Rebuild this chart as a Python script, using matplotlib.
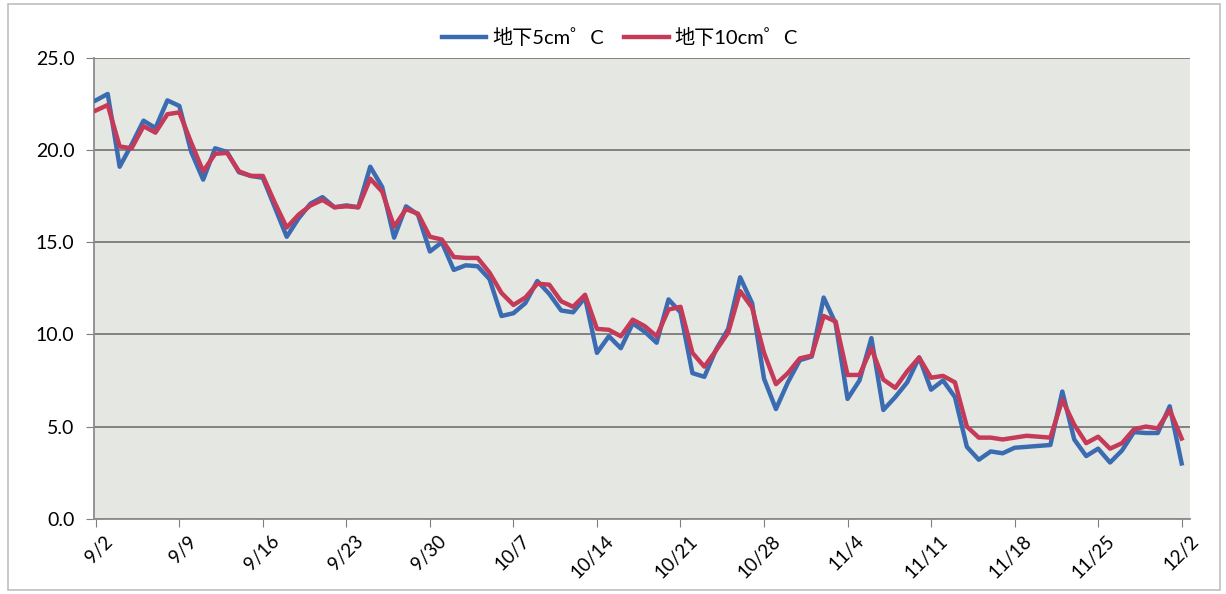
import numpy as np
import matplotlib
matplotlib.use("Agg")
from matplotlib import pyplot as plt
from matplotlib.patches import Rectangle
from matplotlib.transforms import ScaledTranslation

# daily soil temperature, 9/2 .. 12/2
n_days = 92

soil_5cm = [22.7, 23.05, 19.1, 20.3, 21.6, 21.2, 22.7, 22.4, 19.9, 18.4,
            20.1, 19.9, 18.8, 18.6, 18.5, 16.9, 15.3, 16.3, 17.1, 17.45,
            16.9, 17.0, 16.9, 19.1, 18.0, 15.25, 16.95, 16.5, 14.5, 15.0,
            13.5, 13.75, 13.7, 13.0, 11.0, 11.15, 11.7, 12.9, 12.2, 11.3,
            11.2, 12.0, 9.0, 9.9, 9.25, 10.6, 10.15, 9.55, 11.9, 11.2,
            7.9, 7.7, 9.2, 10.3, 13.1, 11.7, 7.6, 5.95, 7.4, 8.6,
            8.8, 12.0, 10.6, 6.5, 7.5, 9.8, 5.9, 6.6, 7.4, 8.75,
            7.0, 7.5, 6.6, 3.9, 3.2, 3.65, 3.55, 3.85, 3.9, 3.95,
            4.0, 6.9, 4.3, 3.4, 3.8, 3.05, 3.7, 4.7, 4.65, 4.65,
            6.1, 3.0]

soil_10cm = [22.15, 22.45, 20.2, 20.1, 21.3, 20.95, 21.95, 22.05, 20.4, 18.85,
             19.8, 19.85, 18.85, 18.6, 18.6, 17.15, 15.8, 16.5, 17.0, 17.3,
             16.9, 16.95, 16.9, 18.45, 17.75, 15.85, 16.8, 16.55, 15.3, 15.15,
             14.2, 14.15, 14.15, 13.35, 12.25, 11.6, 12.0, 12.75, 12.7, 11.8,
             11.5, 12.15, 10.3, 10.25, 9.9, 10.8, 10.45, 9.9, 11.35, 11.5,
             9.0, 8.25, 9.15, 10.1, 12.35, 11.45, 9.0, 7.3, 7.9, 8.7,
             8.85, 11.0, 10.7, 7.8, 7.8, 9.25, 7.55, 7.1, 8.0, 8.75,
             7.65, 7.75, 7.4, 5.0, 4.4, 4.4, 4.3, 4.4, 4.5, 4.45,
             4.4, 6.45, 5.1, 4.1, 4.45, 3.8, 4.1, 4.85, 5.0, 4.9,
             5.9, 4.35]

tick_labels = ["9/2", "9/9", "9/16", "9/23", "9/30", "10/7", "10/14",
               "10/21", "10/28", "11/4", "11/11", "11/18", "11/25", "12/2"]
y_ticks = [0, 5, 10, 15, 20, 25]

plt.rcParams['font.family'] = ['Lato', 'Noto Sans CJK JP', 'DejaVu Sans']

fig = plt.figure(figsize=(12.26, 5.94), dpi=100)
fig.patch.set_facecolor("white")
fig.patches.append(Rectangle((8 / 1226, 4 / 594), 1212 / 1226, 586 / 594,
                             transform=fig.transFigure, fill=False,
                             edgecolor="#bfbfbf", linewidth=1.2))

ax = fig.add_axes([94 / 1226, 1 - 518.7 / 594, 1096 / 1226, 460.7 / 594])
ax.set_facecolor("#e5e8e2")

days = np.arange(n_days)
ax.plot(days, soil_5cm, color="#3b6cb2", lw=3.2, label="地下5cm゜C", zorder=3)
ax.plot(days, soil_10cm, color="#c43a58", lw=3.2, label="地下10cm゜C", zorder=4)

ax.set_xlim(-0.15, 91.7)
ax.set_ylim(0, 25)
ax.set_yticks(y_ticks)
ax.set_yticklabels([f"{v:.1f}" for v in y_ticks], fontsize=14)
ax.set_xticks(np.arange(0, n_days, 7))
ax.set_xticklabels(tick_labels, rotation=45, fontsize=13.5, ha="right",
                   rotation_mode="anchor")
ax.tick_params(axis="x", length=6, color="#7f7f7f", pad=4)
ax.tick_params(axis="y", length=6, color="#7f7f7f", pad=8)
shift = ScaledTranslation(8 / 100, 0, fig.dpi_scale_trans)
for lbl in ax.get_xticklabels():
    lbl.set_transform(lbl.get_transform() + shift)

ax.grid(axis="y", color="#7a7a7a", lw=1.3)
ax.set_axisbelow(True)
for s in ["top", "right"]:
    ax.spines[s].set_visible(False)
for s in ["left", "bottom"]:
    ax.spines[s].set_color("#8c8c8c")
    ax.spines[s].set_linewidth(1.3)

ax.legend(loc="lower center", bbox_to_anchor=(0.48, 1.0), ncol=2, frameon=False,
          fontsize=14.5, handlelength=2.2, columnspacing=1.0, handletextpad=0.3,
          borderaxespad=0.15)

fig.savefig("out.png", dpi=100)
